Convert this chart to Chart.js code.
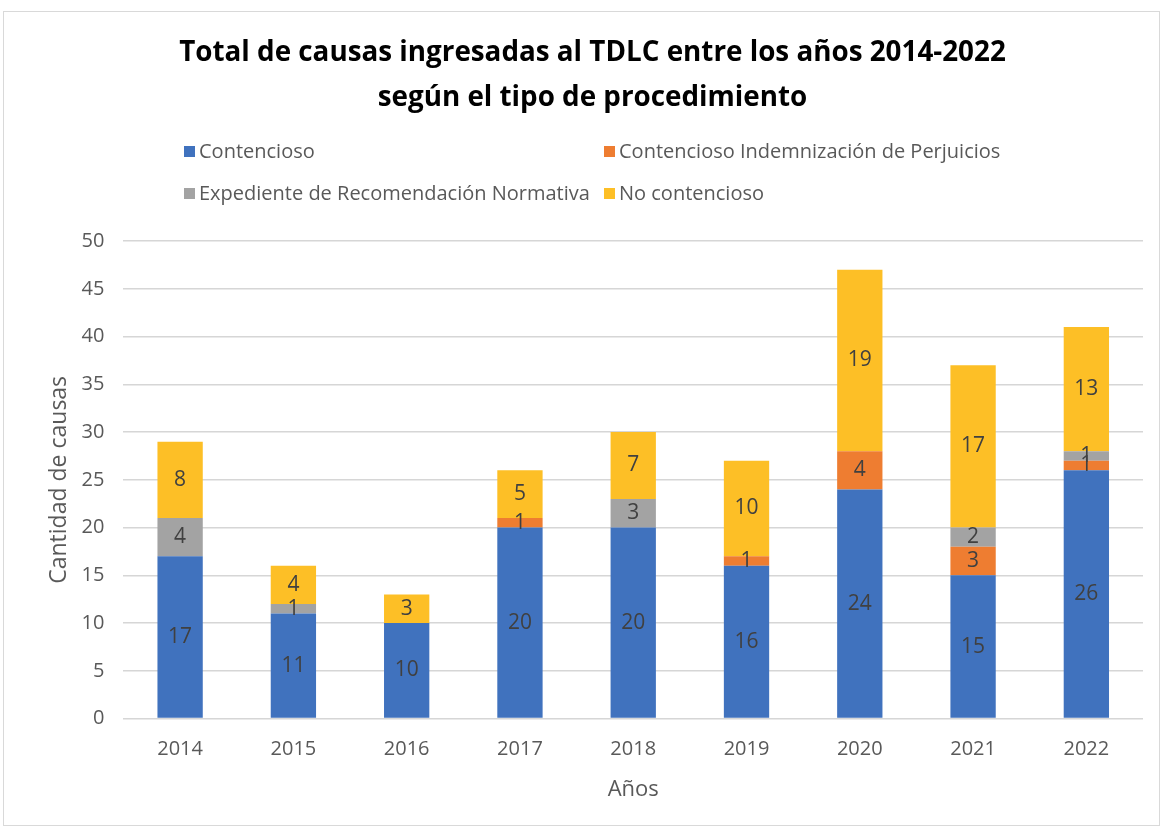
<!DOCTYPE html>
<html lang="es">
<head>
<meta charset="utf-8">
<title>Total de causas ingresadas al TDLC 2014-2022</title>
<script src="https://cdn.jsdelivr.net/npm/chart.js@4.4.1/dist/chart.umd.min.js"></script>
<style>
    html, body { margin: 0; padding: 0; background: #fff; }
    #wrap { position: absolute; left: 3px; top: 11px; width: 1155px; height: 813px; border: 1px solid #d9d9d9; background: #fff; }
    #grafico { display: block; }
    .item { position: absolute; font-family: 'Open Sans', sans-serif; font-size: 20px; color: #595959; line-height: 24px; white-space: nowrap; }
    .item .cuadro { display: inline-block; width: 11px; height: 11px; margin-right: 4px; vertical-align: 1px; }
</style>
</head>
<body>
<div id="wrap">
    <canvas id="grafico"></canvas>
    <div id="leyenda"></div>
</div>
<script>
// Datos del gráfico
const anios = ['2014', '2015', '2016', '2017', '2018', '2019', '2020', '2021', '2022'];
const contencioso = [17, 11, 10, 20, 20, 16, 24, 15, 26];
const indemnizacion = [0, 0, 0, 1, 0, 1, 4, 3, 1];
const expediente = [4, 1, 0, 0, 3, 0, 0, 2, 1];
const noContencioso = [8, 4, 3, 5, 7, 10, 19, 17, 13];

const series = [
    { label: 'Contencioso', data: contencioso, color: '#4072BE' },
    { label: 'Contencioso Indemnización de Perjuicios', data: indemnizacion, color: '#EE7D31' },
    { label: 'Expediente de Recomendación Normativa', data: expediente, color: '#A3A3A3' },
    { label: 'No contencioso', data: noContencioso, color: '#FDBF26' }
];

// Leyenda en dos columnas (como en el original)
const posLeyenda = [[180, 127], [600, 127], [180, 169], [600, 169]];
const leyenda = document.getElementById('leyenda');
series.forEach((s, i) => {
    const div = document.createElement('div');
    div.className = 'item';
    div.style.left = posLeyenda[i][0] + 'px';
    div.style.top = posLeyenda[i][1] + 'px';
    div.innerHTML = `<span class="cuadro" style="background:${s.color}"></span>${s.label}`;
    leyenda.appendChild(div);
});

// Etiquetas de valor dentro de cada segmento
const etiquetas = {
    id: 'etiquetas',
    afterDatasetsDraw(chart) {
        const ctx = chart.ctx;
        ctx.save();
        ctx.font = '21px "Open Sans"';
        ctx.fillStyle = '#404040';
        ctx.textAlign = 'center';
        ctx.textBaseline = 'middle';
        chart.data.datasets.forEach((ds, i) => {
            chart.getDatasetMeta(i).data.forEach((bar, j) => {
                const v = ds.data[j];
                if (!v) return;
                ctx.fillText(v, bar.x, (bar.y + bar.base) / 2);
            });
        });
        ctx.restore();
    }
};

const canvas = document.getElementById('grafico');
canvas.width = 1155;
canvas.height = 813;

new Chart(canvas, {
    type: 'bar',
    data: {
        labels: anios,
        datasets: series.map(s => ({
            label: s.label,
            data: s.data,
            backgroundColor: s.color,
            borderWidth: 0,
            barPercentage: 0.4,
            categoryPercentage: 1
        }))
    },
    options: {
        responsive: false,
        animation: false,
        layout: { padding: { left: 38, right: 16, bottom: 18 } },
        plugins: {
            legend: { display: false },
            tooltip: { enabled: false },
            title: {
                display: true,
                text: ['Total de causas ingresadas al TDLC entre los años 2014-2022', 'según el tipo de procedimiento'],
                color: '#000',
                font: { family: 'Open Sans', size: 27.8, weight: 'bold', lineHeight: 1.62 },
                padding: { top: 19, bottom: 120 }
            }
        },
        scales: {
            x: {
                stacked: true,
                grid: { display: false },
                border: { display: false },
                ticks: { color: '#595959', font: { family: 'Open Sans', size: 20 }, padding: 11 },
                title: { display: true, text: 'Años', color: '#595959', font: { family: 'Open Sans', size: 22 }, padding: { top: 4 } }
            },
            y: {
                stacked: true,
                min: 0,
                max: 50,
                grid: { color: '#d6d6d6', lineWidth: 1.5, drawTicks: false },
                border: { display: false },
                ticks: { stepSize: 5, color: '#595959', font: { family: 'Open Sans', size: 20 }, padding: 19 },
                title: { display: true, text: 'Cantidad de causas', color: '#595959', font: { family: 'Open Sans', size: 23 }, padding: { top: 4, bottom: -11 } }
            }
        }
    },
    plugins: [etiquetas]
});
</script>
</body>
</html>
